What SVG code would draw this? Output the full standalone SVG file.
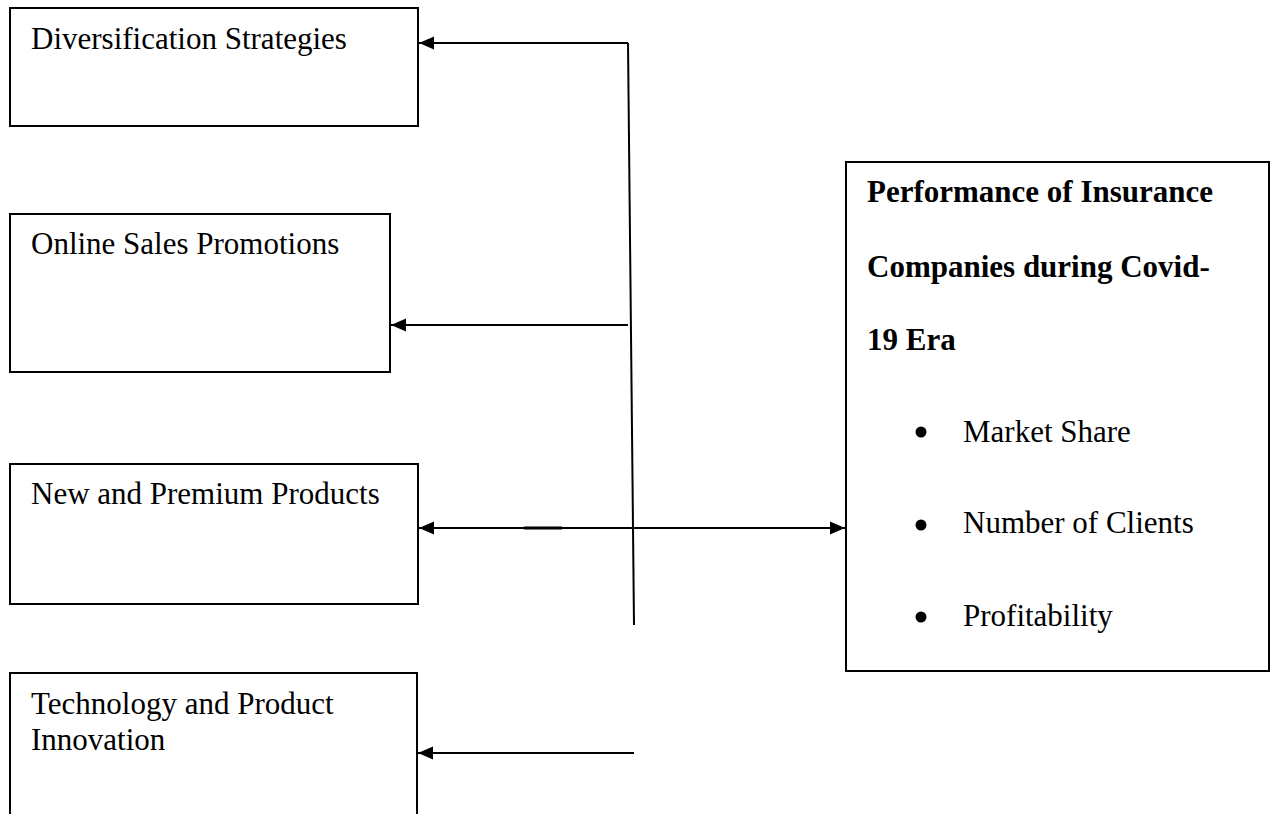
<svg xmlns="http://www.w3.org/2000/svg" width="1277" height="814" viewBox="0 0 1277 814">
<style>
.box{fill:#fff;stroke:#000;stroke-width:2}
.t{font-family:"Liberation Serif","Times New Roman",serif;font-size:31px;fill:#000}
.b{font-weight:bold}
.ln{stroke:#000;stroke-width:2;fill:none}
</style>
<defs>
<marker id="ah" markerUnits="userSpaceOnUse" markerWidth="16" markerHeight="14" refX="15" refY="7" orient="auto-start-reverse">
<path d="M0,0.5 L15,7 L0,13.5 Z" fill="#000"/>
</marker>
</defs>
<rect width="1277" height="814" fill="#fff"/>
<g id="n1">
<rect class="box" x="10" y="8" width="408" height="118"/>
<text class="t" x="31" y="49">Diversification Strategies</text>
</g>
<g id="n2">
<rect class="box" x="10" y="214" width="380" height="158"/>
<text class="t" x="31" y="254">Online Sales Promotions</text>
</g>
<g id="n3">
<rect class="box" x="10" y="464" width="408" height="140"/>
<text class="t" x="31" y="504">New and Premium Products</text>
</g>
<g id="n4">
<rect class="box" x="10" y="673" width="407" height="160"/>
<text class="t" x="31" y="714">Technology and Product</text>
<text class="t" x="31" y="750">Innovation</text>
</g>
<g id="n5">
<rect class="box" x="846" y="162" width="423" height="509"/>
<text class="t b" x="867" y="202">Performance of Insurance</text>
<text class="t b" x="867" y="277">Companies during Covid-</text>
<text class="t b" x="867" y="350">19 Era</text>
<circle cx="921" cy="432" r="5.5"/>
<text class="t" x="963" y="442">Market Share</text>
<circle cx="921" cy="525" r="5.5"/>
<text class="t" x="963" y="533">Number of Clients</text>
<circle cx="921" cy="617" r="5.5"/>
<text class="t" x="963" y="626">Profitability</text>
</g>
<g id="connectors">
<line class="ln" x1="628" y1="43" x2="634" y2="625"/>
<line class="ln" x1="628" y1="43" x2="419" y2="43" marker-end="url(#ah)"/>
<line class="ln" x1="628" y1="325" x2="391" y2="325" marker-end="url(#ah)"/>
<line class="ln" x1="419" y1="528" x2="845" y2="528" marker-start="url(#ah)" marker-end="url(#ah)"/>
<line x1="524" y1="528" x2="562" y2="528" stroke="#000" stroke-width="3"/>
<line class="ln" x1="634" y1="753" x2="418" y2="753" marker-end="url(#ah)"/>
</g>
</svg>
